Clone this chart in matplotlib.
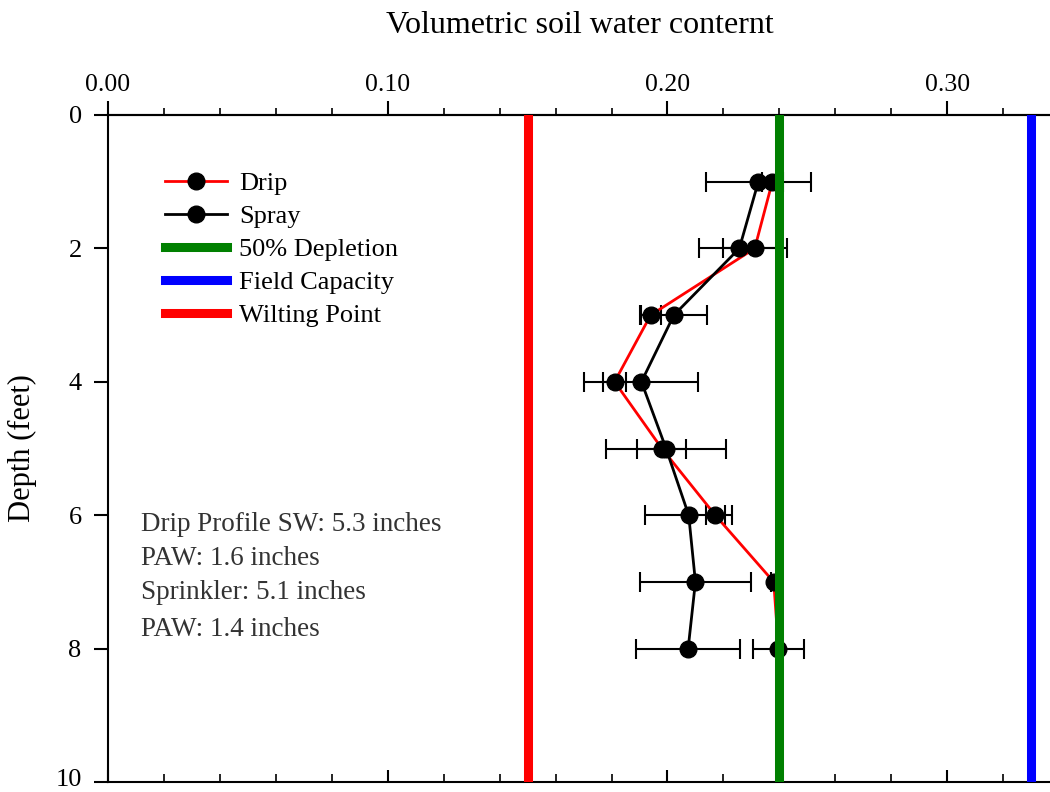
import matplotlib
matplotlib.use("Agg")
import matplotlib.pyplot as plt
from matplotlib.lines import Line2D
from matplotlib.transforms import ScaledTranslation

# data
profundidade = [1, 2, 3, 4, 5, 6, 7, 8]
drip = [0.2375, 0.2312, 0.1940, 0.1811, 0.1980, 0.2171, 0.2380, 0.2397]
drip_err = [0.0038, 0.0115, 0.0038, 0.0040, 0.0088, 0.0034, 0.0010, 0.0090]
spray = [0.2325, 0.2257, 0.2023, 0.1907, 0.1995, 0.2076, 0.2100, 0.2074]
spray_err = [0.0188, 0.0145, 0.0117, 0.0204, 0.0216, 0.0155, 0.0199, 0.0185]

depletion = 0.24
field_capacity = 0.33
wilting_point = 0.15

notas = ["Drip Profile SW: 5.3 inches", "PAW: 1.6 inches",
         "Sprinkler: 5.1 inches", "PAW: 1.4 inches"]

plt.rcParams['font.family'] = ['Liberation Serif', 'DejaVu Serif']

fig = plt.figure(figsize=(10.5, 7.92), dpi=100)
ax = fig.add_axes([0.1029, 0.0126, 0.9057, 0.8422])

# series with error bars
ax.errorbar(drip, profundidade, xerr=drip_err, color="red", lw=2,
            marker="o", markersize=12, markerfacecolor="black",
            markeredgecolor="black", ecolor="black", elinewidth=1.5,
            capsize=7, capthick=1.5, zorder=3)
ax.errorbar(spray, profundidade, xerr=spray_err, color="black", lw=2,
            marker="o", markersize=12, markerfacecolor="black",
            markeredgecolor="black", ecolor="black", elinewidth=1.5,
            capsize=7, capthick=1.5, zorder=3)

# reference lines
ax.axvline(depletion, color="green", lw=6.5, zorder=4)
ax.axvline(field_capacity, color="blue", lw=6.5, zorder=4)
ax.axvline(wilting_point, color="red", lw=6.5, zorder=4)

ax.set_xlim(0, 0.34)
ax.set_ylim(10, 0)

# spines
ax.spines['right'].set_visible(False)
for s in ['left', 'top', 'bottom']:
    ax.spines[s].set_linewidth(1.5)

# bottom axis: inward ticks, no labels
ax.set_xticks([0, 0.1, 0.2, 0.3])
ax.set_xticks([x / 100 for x in range(0, 34, 2)], minor=True)
ax.tick_params(axis='x', which='major', direction='in', length=9, width=1.5,
               top=False, labelbottom=False)
ax.tick_params(axis='x', which='minor', direction='in', length=6, width=1.2,
               top=False)

# top axis: outward ticks with labels
sec = ax.secondary_xaxis('top')
sec.set_xticks([0, 0.1, 0.2, 0.3])
sec.set_xticklabels(["0.00", "0.10", "0.20", "0.30"])
sec.set_xticks([x / 100 for x in range(0, 34, 2)], minor=True)
sec.tick_params(which='major', direction='out', length=10, width=1.5,
                labelsize=18.5, pad=4)
sec.tick_params(which='minor', direction='out', length=5, width=1.2)
sec.spines['top'].set_linewidth(1.5)

ax.set_yticks([0, 2, 4, 6, 8, 10])
ax.tick_params(axis='y', direction='out', length=10, width=1.5,
               labelsize=19, pad=9)
# nudge the "10" label up so it stays inside the figure
ult = ax.get_yticklabels()[-1]
ult.set_transform(ult.get_transform() + ScaledTranslation(0, 3 / 72, fig.dpi_scale_trans))

# legend
handles = [
    Line2D([], [], color="red", lw=2, marker="o", markersize=12,
           markerfacecolor="black", markeredgecolor="black"),
    Line2D([], [], color="black", lw=2, marker="o", markersize=12,
           markerfacecolor="black", markeredgecolor="black"),
    Line2D([], [], color="green", lw=6.5),
    Line2D([], [], color="blue", lw=6.5),
    Line2D([], [], color="red", lw=6.5),
]
labels = ["Drip", "Spray", "50% Depletion", "Field Capacity", "Wilting Point"]
ax.legend(handles, labels, loc="upper left", bbox_to_anchor=(0.0463, 0.935),
          frameon=False, fontsize=19, borderpad=0, handlelength=2.35,
          handletextpad=0.45, labelspacing=0.36)

# notes
ys = [0.3868, 0.3358, 0.2834, 0.2294]
for txt, y in zip(notas, ys):
    ax.text(0.035, y, txt, transform=ax.transAxes, fontsize=19.5,
            color="#333333", va="center", ha="left")

fig.text(0.552, 0.968, "Volumetric soil water conternt", fontsize=23,
         ha="center", va="center")
fig.text(0.021, 0.434, "Depth (feet)", fontsize=22, rotation=90,
         ha="center", va="center")

fig.savefig("out.png", dpi=100)
